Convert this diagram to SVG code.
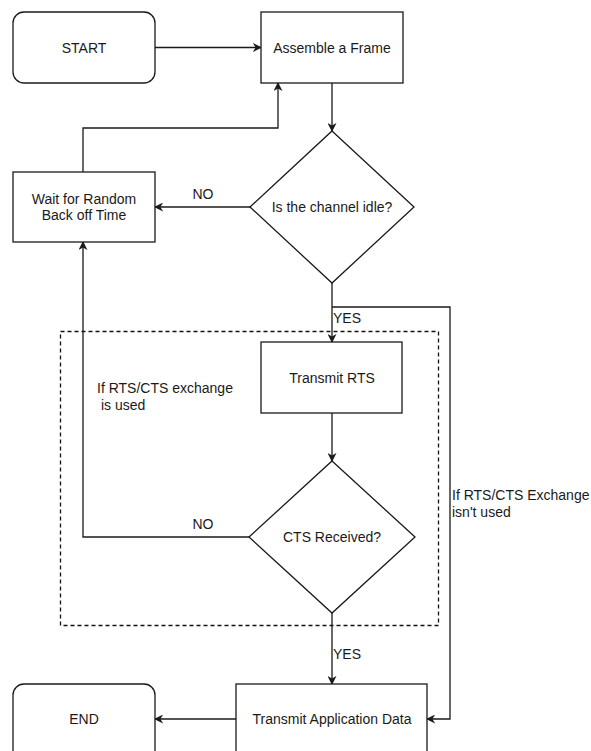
<svg xmlns="http://www.w3.org/2000/svg" width="591" height="751" viewBox="0 0 591 751">
  <style>
    .shape { fill: #ffffff; stroke: #1a1a1a; stroke-width: 1.3; }
    .edge { fill: none; stroke: #1a1a1a; stroke-width: 1.3; }
    .group { fill: none; stroke: #111111; stroke-width: 1.3; stroke-dasharray: 4 3; }
    text { font-family: "Liberation Sans", Arial, sans-serif; font-size: 14px; fill: #1a1a1a; dominant-baseline: central; }
    .c { text-anchor: middle; }
  </style>
  <defs>
    <marker id="arrow" viewBox="0 0 10 10" refX="9" refY="5" markerWidth="9" markerHeight="9" markerUnits="userSpaceOnUse" orient="auto">
      <path d="M0,0 L10,5 L0,10 L3,5 z" fill="#1a1a1a"/>
    </marker>
  </defs>

  <rect width="591" height="751" fill="#ffffff"/>

  <!-- RTS/CTS handshake region -->
  <rect id="rts-cts-region" class="group" x="60.5" y="331.5" width="378" height="294"/>

  <g id="connectors">
    <path class="edge" d="M155,47.5 H261" marker-end="url(#arrow)"/>
    <path class="edge" d="M332,83 V131" marker-end="url(#arrow)"/>
    <path class="edge" d="M250,207 H155" marker-end="url(#arrow)"/>
    <path class="edge" d="M83,172 V128 H278 V83" marker-end="url(#arrow)"/>
    <path class="edge" d="M332,283 V342" marker-end="url(#arrow)"/>
    <path class="edge" d="M332,307 H450 V719 H427" marker-end="url(#arrow)"/>
    <path class="edge" d="M332,413 V461" marker-end="url(#arrow)"/>
    <path class="edge" d="M249,537 H83 V242" marker-end="url(#arrow)"/>
    <path class="edge" d="M332,613 V684" marker-end="url(#arrow)"/>
    <path class="edge" d="M236,719 H155" marker-end="url(#arrow)"/>

    <text x="203" y="194" class="c">NO</text>
    <text x="333" y="318">YES</text>
    <text x="97" y="388">If RTS/CTS exchange</text>
    <text x="101" y="405">is used</text>
    <text x="203" y="524" class="c">NO</text>
    <text x="333" y="654">YES</text>
    <text x="452" y="495">If RTS/CTS Exchange</text>
    <text x="452" y="512">isn't used</text>
  </g>

  <g id="start">
    <rect class="shape" x="13" y="12" width="142" height="71" rx="11"/>
    <text x="84" y="47.5" class="c">START</text>
  </g>

  <g id="assemble-frame">
    <rect class="shape" x="261" y="12" width="142" height="71"/>
    <text x="332" y="47.5" class="c">Assemble a Frame</text>
  </g>

  <g id="channel-idle">
    <polygon class="shape" points="332,131 414,207 332,283 250,207"/>
    <text x="332" y="207" class="c">Is the channel idle?</text>
  </g>

  <g id="random-backoff">
    <rect class="shape" x="13" y="172" width="142" height="70"/>
    <text x="84" y="199" class="c">Wait for Random</text>
    <text x="84" y="215" class="c">Back off Time</text>
  </g>

  <g id="transmit-rts">
    <rect class="shape" x="261" y="342" width="141" height="71"/>
    <text x="332" y="378" class="c">Transmit RTS</text>
  </g>

  <g id="cts-received">
    <polygon class="shape" points="332,461 415,537 332,613 249,537"/>
    <text x="332" y="537" class="c">CTS Received?</text>
  </g>

  <g id="transmit-data">
    <rect class="shape" x="236" y="684" width="191" height="80"/>
    <text x="332" y="719" class="c">Transmit Application Data</text>
  </g>

  <g id="end">
    <rect class="shape" x="13" y="684" width="142" height="80" rx="11"/>
    <text x="84" y="719" class="c">END</text>
  </g>
</svg>
